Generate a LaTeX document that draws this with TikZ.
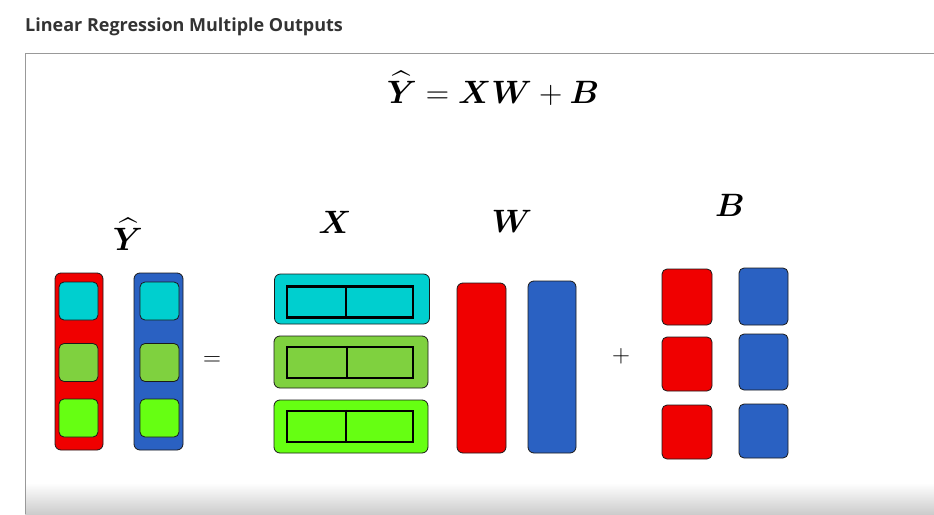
\documentclass[tikz,border=0pt]{standalone}
\usepackage{amsmath,bm}
\usepackage{fontspec}
\newfontfamily\titlefont{Open Sans}
\usetikzlibrary{positioning}
\definecolor{cred}{HTML}{F00000}
\definecolor{cblue}{HTML}{2A61C2}
\definecolor{ccyan}{HTML}{00CFCF}
\definecolor{colive}{HTML}{7FD13F}
\definecolor{clime}{HTML}{66FF12}
\definecolor{cedge}{HTML}{1A1A1A}
\tikzset{
  box/.style={draw=cedge,line width=0.8pt,rounded corners=6pt,inner sep=0pt,outer sep=0pt},
  cell/.style={box,rounded corners=5pt,minimum width=39pt,minimum height=38pt},
  xin/.style={draw=black,line width=2.4pt,inner sep=0pt,minimum width=126pt,minimum height=31pt},
  lab/.style={anchor=base,font=\Huge,scale=1.3},
  op/.style={anchor=center,font=\Huge}
}

\begin{document}
\begin{tikzpicture}[x=1pt,y=-1pt]
\useasboundingbox (0,0) rectangle (934,514);
% frame
\shade[top color=white,bottom color=black!20] (25,483) rectangle (934,514);
\draw[black!40,line width=1pt] (25,514) -- (25,53) -- (934,53);
\node[anchor=base west,inner sep=0pt,text=black!80,font=\titlefont\bfseries\fontsize{18}{22}\selectfont] (title) at (25,31) {Linear Regression Multiple Outputs};
\node[lab] (eq) at (493,103) {$\widehat{\bm{Y}}=\bm{X}\bm{W}+\bm{B}$};
% Y hat
\node[lab] (lyhat) at (128,250) {$\widehat{\bm{Y}}$};
\node[box,fill=cred,minimum width=48pt,minimum height=177pt] (y1) at (79,361.5) {};
\node[box,fill=cblue,minimum width=49pt,minimum height=177pt] (y2) at (158.5,361.5) {};
\node[cell,fill=ccyan] (y11) at (78.5,301) {}; \node[cell,fill=colive] (y12) at (78.5,362.5) {};
\node[cell,fill=clime] (y13) at (78.5,418) {};
\node[cell,fill=ccyan] (y21) at (159.5,301) {}; \node[cell,fill=colive] (y22) at (159.5,362.5) {};
\node[cell,fill=clime] (y23) at (159.5,418) {};
\node[op] (eqsign) at (212,361) {$=$};
% X
\node[lab] (lx) at (335,233) {$\bm{X}$};
\node[box,fill=ccyan,minimum width=155pt,minimum height=50pt] (x1) at (352,299) {};
\node[box,fill=colive,minimum width=154pt,minimum height=52pt] (x2) at (351,362) {};
\node[box,fill=clime,minimum width=154pt,minimum height=53pt] (x3) at (351,426.5) {};
\node[xin] (xi1) at (350,302) {}; \node[xin] (xi2) at (350,362.5) {}; \node[xin] (xi3) at (350,426.5) {};
\draw[line width=2.4pt] ([xshift=-4pt]xi1.north) -- ([xshift=-4pt]xi1.south);
\draw[line width=2.4pt] ([xshift=-3pt]xi2.north) -- ([xshift=-3pt]xi2.south);
\draw[line width=2.4pt] ([xshift=-4pt]xi3.north) -- ([xshift=-4pt]xi3.south);
% W
\node[lab] (lw) at (512,232) {$\bm{W}$};
\node[box,fill=cred,minimum width=49pt,minimum height=170pt] (w1) at (481.5,368) {};
\node[box,fill=cblue,minimum width=48pt,minimum height=172pt] (w2) at (552,367) {};
\node[op] (plus) at (621,356) {$+$};
% B
\node[lab] (lb) at (730,216) {$\bm{B}$};
\node[cell,fill=cred,minimum width=50pt,minimum height=56pt] (b11) at (687,297) {};
\node[cell,fill=cred,minimum width=50pt,minimum height=54pt] (b12) at (687,364) {};
\node[cell,fill=cred,minimum width=50pt,minimum height=54pt] (b13) at (687,432) {};
\node[cell,fill=cblue,minimum width=49pt,minimum height=57pt] (b21) at (763.5,296.5) {};
\node[cell,fill=cblue,minimum width=49pt,minimum height=56pt] (b22) at (763.5,362) {};
\node[cell,fill=cblue,minimum width=49pt,minimum height=54pt] (b23) at (763.5,431) {};
\end{tikzpicture}
\end{document}
